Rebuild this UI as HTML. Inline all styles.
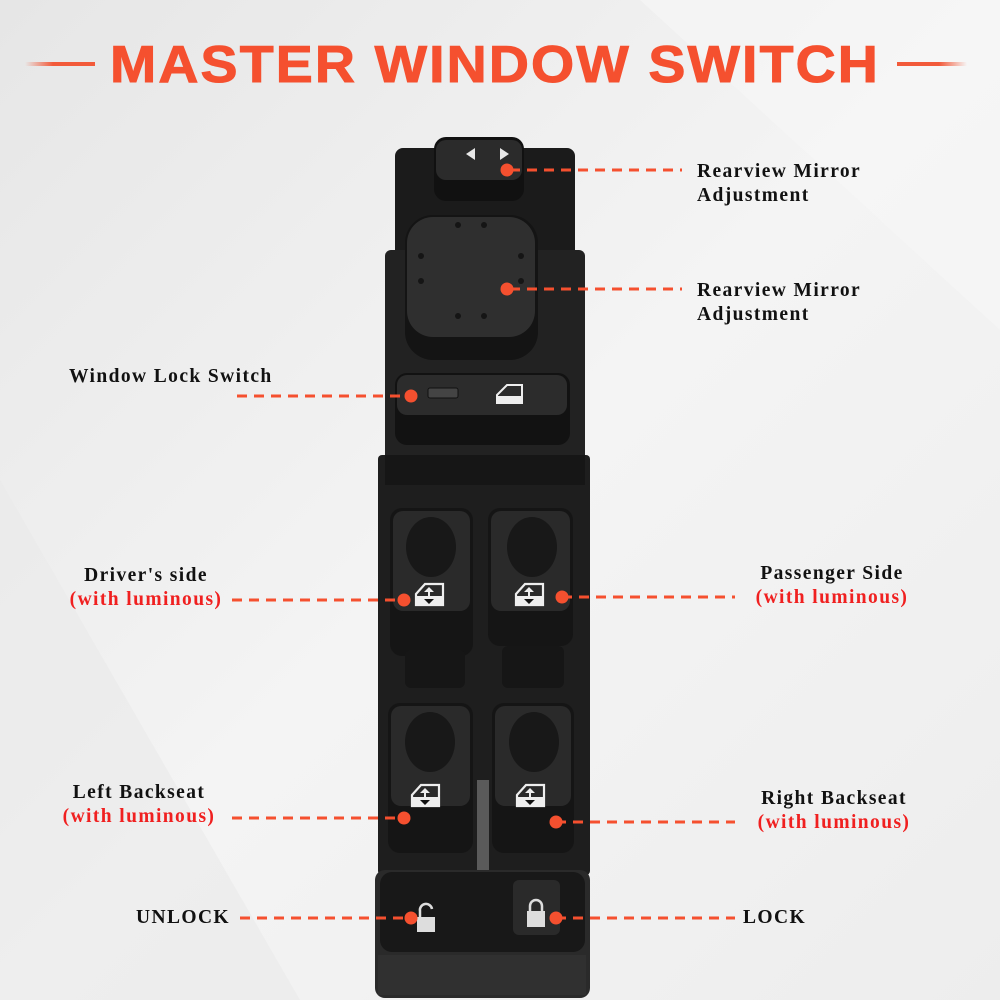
<!DOCTYPE html>
<html><head><meta charset="utf-8"><style>
body{margin:0;width:1000px;height:1000px;overflow:hidden;background:#f0f0f0}
svg{display:block}
.t{font-family:"Liberation Serif",serif;font-weight:bold;font-size:19.5px;letter-spacing:1.4px;fill:#111}
.r{fill:#f02020}
</style></head><body>
<svg width="1000" height="1000" viewBox="0 0 1000 1000">
<defs>
<linearGradient id="bg" x1="0" y1="0" x2="1" y2="1"><stop offset="0" stop-color="#e6e6e6"/><stop offset=".5" stop-color="#f4f4f4"/><stop offset="1" stop-color="#ededed"/></linearGradient>
<linearGradient id="ln" x1="0" x2="1"><stop offset="0" stop-color="#f25a3a" stop-opacity="0"/><stop offset=".4" stop-color="#f25a3a"/><stop offset="1" stop-color="#f25a3a"/></linearGradient>
<linearGradient id="ln2" x1="1" x2="0"><stop offset="0" stop-color="#f25a3a" stop-opacity="0"/><stop offset=".4" stop-color="#f25a3a"/><stop offset="1" stop-color="#f25a3a"/></linearGradient>
<g id="win"><path d="M0 10 L9 0 L27 0 L27 21 L0 21Z" fill="none" stroke="#eee" stroke-width="2.2"/><rect x="0" y="12" width="27" height="9" fill="#eee"/><path d="M13 3 l-5 5 h4 v6 h2 v-6 h4z" fill="#eee"/><path d="M13 20 l-5 -5 h10z" fill="#111"/></g>
</defs>
<rect width="1000" height="1000" fill="url(#bg)"/>
<polygon points="640,0 1000,0 1000,330" fill="#f7f7f7" opacity=".6"/>
<polygon points="0,480 300,1000 0,1000" fill="#e9e9e9" opacity=".6"/>
<!-- title -->
<rect x="25" y="62" width="70" height="4" fill="url(#ln)"/>
<rect x="897" y="62" width="70" height="4" fill="url(#ln2)"/>
<text x="495" y="82" text-anchor="middle" font-family="Liberation Sans,sans-serif" font-weight="bold" font-size="52" letter-spacing="2" fill="#f5502f" stroke="#f5502f" stroke-width="1" textLength="770" lengthAdjust="spacingAndGlyphs">MASTER WINDOW SWITCH</text>

<!-- switch body -->
<rect x="395" y="148" width="180" height="230" rx="8" fill="#1b1b1b"/>
<rect x="385" y="250" width="200" height="700" rx="6" fill="#222"/>
<rect x="378" y="455" width="212" height="420" rx="4" fill="#1e1e1e"/>
<rect x="375" y="870" width="215" height="128" rx="10" fill="#2a2a2a"/>
<!-- top mirror button -->
<rect x="434" y="137" width="90" height="64" rx="12" fill="#111"/>
<rect x="436" y="140" width="86" height="40" rx="10" fill="#2b2b2b"/>
<polygon points="475,148 475,160 466,154" fill="#e8e8e8"/>
<polygon points="500,148 500,160 509,154" fill="#e8e8e8"/>
<!-- joystick -->
<rect x="405" y="215" width="133" height="145" rx="28" fill="#141414"/>
<rect x="407" y="217" width="128" height="120" rx="26" fill="#2f2f2f"/>
<g fill="#151515"><circle cx="458" cy="225" r="3"/><circle cx="484" cy="225" r="3"/><circle cx="421" cy="256" r="3"/><circle cx="421" cy="281" r="3"/><circle cx="521" cy="256" r="3"/><circle cx="521" cy="281" r="3"/><circle cx="458" cy="316" r="3"/><circle cx="484" cy="316" r="3"/></g>
<!-- lock bar -->
<rect x="395" y="373" width="175" height="72" rx="12" fill="#121212"/>
<rect x="397" y="375" width="170" height="40" rx="10" fill="#2c2c2c"/>
<rect x="428" y="388" width="30" height="10" rx="2" fill="#444" stroke="#111"/>
<path d="M497 395 l10 -10 h15 v18 h-25z" fill="none" stroke="#eee" stroke-width="2"/><rect x="498" y="396" width="23" height="6" fill="#eee"/>
<rect x="385" y="455" width="200" height="30" fill="#111" opacity=".6"/>
<!-- window buttons -->
<g>
<rect x="390" y="508" width="83" height="148" rx="12" fill="#151515"/><rect x="393" y="511" width="77" height="100" rx="10" fill="#2a2a2a"/><ellipse cx="431" cy="547" rx="25" ry="30" fill="#181818"/><rect x="405" y="650" width="60" height="38" rx="6" fill="#161616"/>
<rect x="488" y="508" width="85" height="138" rx="12" fill="#151515"/><rect x="491" y="511" width="79" height="100" rx="10" fill="#2a2a2a"/><ellipse cx="532" cy="547" rx="25" ry="30" fill="#181818"/><rect x="502" y="646" width="62" height="42" rx="6" fill="#161616"/>
<rect x="388" y="703" width="85" height="150" rx="12" fill="#151515"/><rect x="391" y="706" width="79" height="100" rx="10" fill="#2a2a2a"/><ellipse cx="430" cy="742" rx="25" ry="30" fill="#181818"/>
<rect x="492" y="703" width="82" height="150" rx="12" fill="#151515"/><rect x="495" y="706" width="76" height="100" rx="10" fill="#2a2a2a"/><ellipse cx="534" cy="742" rx="25" ry="30" fill="#181818"/>
<rect x="477" y="780" width="12" height="90" fill="#5a5a5a"/>
</g>
<use href="#win" x="416" y="584"/><use href="#win" x="516" y="584"/><use href="#win" x="412" y="785"/><use href="#win" x="517" y="785"/>
<!-- bottom lock bar -->
<rect x="380" y="872" width="205" height="80" rx="12" fill="#181818"/>
<rect x="513" y="880" width="47" height="55" rx="6" fill="#2a2a2a"/>
<rect x="417" y="917" width="18" height="15" fill="#ddd"/><path d="M420 917 v-6 a6 6 0 0 1 12 -2" fill="none" stroke="#ddd" stroke-width="2.5"/>
<rect x="527" y="911" width="18" height="16" fill="#ddd"/><path d="M530 911 v-5 a6 6 0 0 1 12 0 v5" fill="none" stroke="#ddd" stroke-width="2.5"/>
<rect x="378" y="955" width="208" height="40" fill="#303030"/>

<!-- connectors -->
<g stroke="#f5502f" stroke-width="3" stroke-dasharray="10,7" fill="none">
<line x1="510" y1="170" x2="682" y2="170"/>
<line x1="510" y1="289" x2="682" y2="289"/>
<line x1="237" y1="396" x2="410" y2="396"/>
<line x1="232" y1="600" x2="404" y2="600"/>
<line x1="562" y1="597" x2="735" y2="597"/>
<line x1="232" y1="818" x2="404" y2="818"/>
<line x1="556" y1="822" x2="735" y2="822"/>
<line x1="240" y1="918" x2="411" y2="918"/>
<line x1="556" y1="918" x2="735" y2="918"/>
</g>
<g fill="#f5502f">
<circle cx="507" cy="170" r="6.5"/><circle cx="507" cy="289" r="6.5"/><circle cx="411" cy="396" r="6.5"/><circle cx="404" cy="600" r="6.5"/><circle cx="562" cy="597" r="6.5"/><circle cx="404" cy="818" r="6.5"/><circle cx="556" cy="822" r="6.5"/><circle cx="411" cy="918" r="6.5"/><circle cx="556" cy="918" r="6.5"/>
</g>

<!-- labels -->
<text class="t" x="697" y="177">Rearview Mirror</text>
<text class="t" x="697" y="201">Adjustment</text>
<text class="t" x="697" y="296">Rearview Mirror</text>
<text class="t" x="697" y="320">Adjustment</text>
<text class="t" x="69" y="382">Window Lock Switch</text>
<text class="t" x="146" y="581" text-anchor="middle">Driver's side</text>
<text class="t r" x="146" y="605" text-anchor="middle">(with luminous)</text>
<text class="t" x="832" y="579" text-anchor="middle">Passenger Side</text>
<text class="t r" x="832" y="603" text-anchor="middle">(with luminous)</text>
<text class="t" x="139" y="798" text-anchor="middle">Left Backseat</text>
<text class="t r" x="139" y="822" text-anchor="middle">(with luminous)</text>
<text class="t" x="834" y="804" text-anchor="middle">Right Backseat</text>
<text class="t r" x="834" y="828" text-anchor="middle">(with luminous)</text>
<text class="t" x="136" y="923">UNLOCK</text>
<text class="t" x="743" y="923">LOCK</text>
</svg>
</body></html>
